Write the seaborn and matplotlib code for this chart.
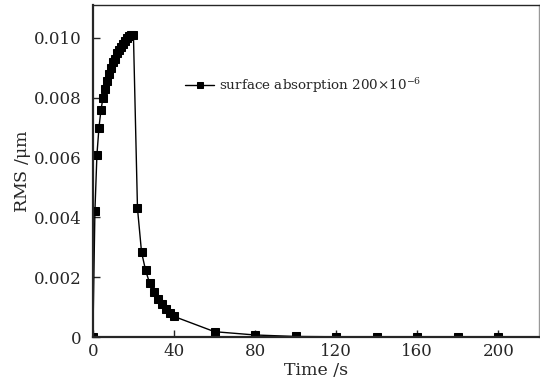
import matplotlib
matplotlib.use("Agg")
import matplotlib.pyplot as plt
import seaborn as sns
import pandas as pd

time_s = [0, 1, 2, 3, 4, 5, 6, 7, 8, 9, 10, 11, 12, 13, 14, 15, 16, 17, 18, 19, 20,
          22, 24, 26, 28, 30, 32, 34, 36, 38, 40, 60, 80, 100, 120, 140, 160, 180, 200]
rms_um = [0.0, 0.0042, 0.0061, 0.0070, 0.0076, 0.0080, 0.0083, 0.00855, 0.0088, 0.0090,
          0.0092, 0.0093, 0.0095, 0.0096, 0.0097, 0.0098, 0.0099, 0.0100, 0.01005, 0.0101, 0.0101,
          0.0043, 0.00284, 0.00223, 0.0018, 0.0015, 0.00127, 0.00109, 0.00093, 0.0008, 0.00069,
          0.00018, 0.00007, 0.00002, 0.00001, 0.00001, 0.00001, 0.00001, 0.00001]
x_ticks = [0, 40, 80, 120, 160, 200]
y_ticks = [0, 0.002, 0.004, 0.006, 0.008, 0.010]
y_tick_labels = ["0", "0.002", "0.004", "0.006", "0.008", "0.010"]
series_label = r"surface absorption 200$\times$10$^{-6}$"

df = pd.DataFrame({"Time": time_s, "RMS": rms_um})

sns.set_style("ticks")
plt.rcParams["font.family"] = ["DejaVu Serif"]
plt.rcParams["mathtext.fontset"] = "dejavuserif"

fig = plt.figure(figsize=(5.4, 3.87), dpi=100)
ax = fig.add_axes([0.172, 0.129, 0.826, 0.858])

sns.lineplot(data=df, x="Time", y="RMS", ax=ax, color="black", linewidth=1.0,
             marker="s", markersize=5.5, markeredgecolor="black", label=series_label,
             sort=False, estimator=None)

ax.set_xlim(0, 220)
ax.set_ylim(0, 0.0111)
ax.set_xticks(x_ticks)
ax.set_yticks(y_ticks)
ax.set_yticklabels(y_tick_labels)
ax.tick_params(direction="in", length=5, width=1, labelsize=12, top=False, right=False)
ax.tick_params(axis="y", pad=8)
ax.tick_params(axis="x", pad=4)
for s in ["left", "bottom"]:
    ax.spines[s].set_linewidth(1.6)
for s in ["top", "right"]:
    ax.spines[s].set_linewidth(1.0)
    ax.spines[s].set_visible(True)
ax.spines["right"].set_color("#999999")

ax.set_xlabel("Time /s", fontsize=12.5, labelpad=2)
ax.set_ylabel(r"RMS /$\mathrm{\mu}$m", fontsize=12.5, labelpad=1)

leg = ax.legend(loc="center left", bbox_to_anchor=(0.206, 0.759), frameon=False,
                fontsize=9.7, handlelength=2.2, handletextpad=0.35,
                borderaxespad=0, borderpad=0, markerscale=0.7)

fig.savefig("out.png", dpi=100)
